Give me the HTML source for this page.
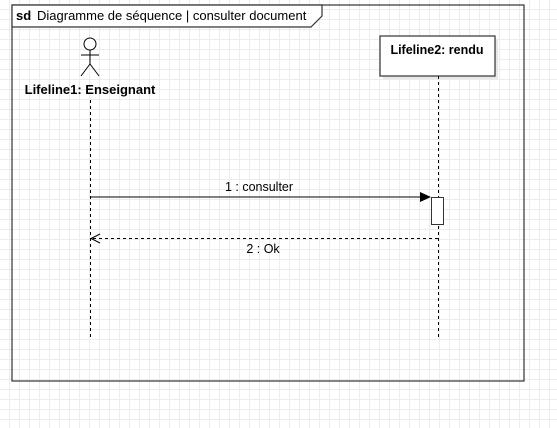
<!DOCTYPE html>
<html><head><style>
html,body{margin:0;padding:0;background:#fff;}
body{width:557px;height:428px;overflow:hidden;
background-image:linear-gradient(#ececec 1px,transparent 1px),linear-gradient(90deg,#ececec 1px,transparent 1px);
background-size:10px 10px;background-position:-1px -1px;}
</style></head><body>
<svg width="557" height="428" xmlns="http://www.w3.org/2000/svg" style="position:absolute;left:0;top:0" font-family="Liberation Sans, sans-serif">
<rect x="12" y="5" width="512" height="376" fill="none" stroke="#333" stroke-width="1.2"/>
<path d="M12 5 H322 V16 L311 27 H12 Z" fill="#fff" stroke="#333" stroke-width="1.2"/>
<text x="16" y="20" font-size="13" font-weight="bold" fill="#000">sd</text>
<text x="37" y="20" font-size="13" fill="#000">Diagramme de séquence | consulter document</text>
<g stroke="#000" fill="none">
<circle cx="90" cy="44" r="6" fill="#fff"/>
<line x1="90" y1="50" x2="90" y2="64"/>
<line x1="81" y1="55" x2="99" y2="55"/>
<line x1="90" y1="64" x2="81" y2="76"/>
<line x1="90" y1="64" x2="99" y2="76"/>
</g>
<text x="90" y="94" font-size="13" font-weight="bold" text-anchor="middle">Lifeline1: Enseignant</text>
<line x1="90.5" y1="100" x2="90.5" y2="340" stroke="#000" stroke-dasharray="3,3"/>
<rect x="383" y="39" width="115" height="40" fill="#e8e8e8"/>
<rect x="380" y="36" width="115" height="40" fill="#fff" stroke="#333" stroke-width="1.2"/>
<text x="437" y="54" font-size="12.5" font-weight="bold" text-anchor="middle">Lifeline2: rendu</text>
<line x1="438.5" y1="76" x2="438.5" y2="340" stroke="#000" stroke-dasharray="3,3"/>
<line x1="90" y1="197" x2="424" y2="197" stroke="#000"/>
<path d="M420 192 L431 197 L420 202 Z" fill="#000"/>
<rect x="431.5" y="197.5" width="12" height="27" fill="#fff" stroke="#333"/>
<text x="259" y="191" font-size="12.5" text-anchor="middle">1 : consulter</text>
<line x1="438" y1="238.5" x2="91" y2="238.5" stroke="#000" stroke-dasharray="3,3"/>
<path d="M100 234 L91 238.5 L100 243" fill="none" stroke="#000"/>
<text x="263" y="253" font-size="12.5" text-anchor="middle">2 : Ok</text>
</svg>
</body></html>
